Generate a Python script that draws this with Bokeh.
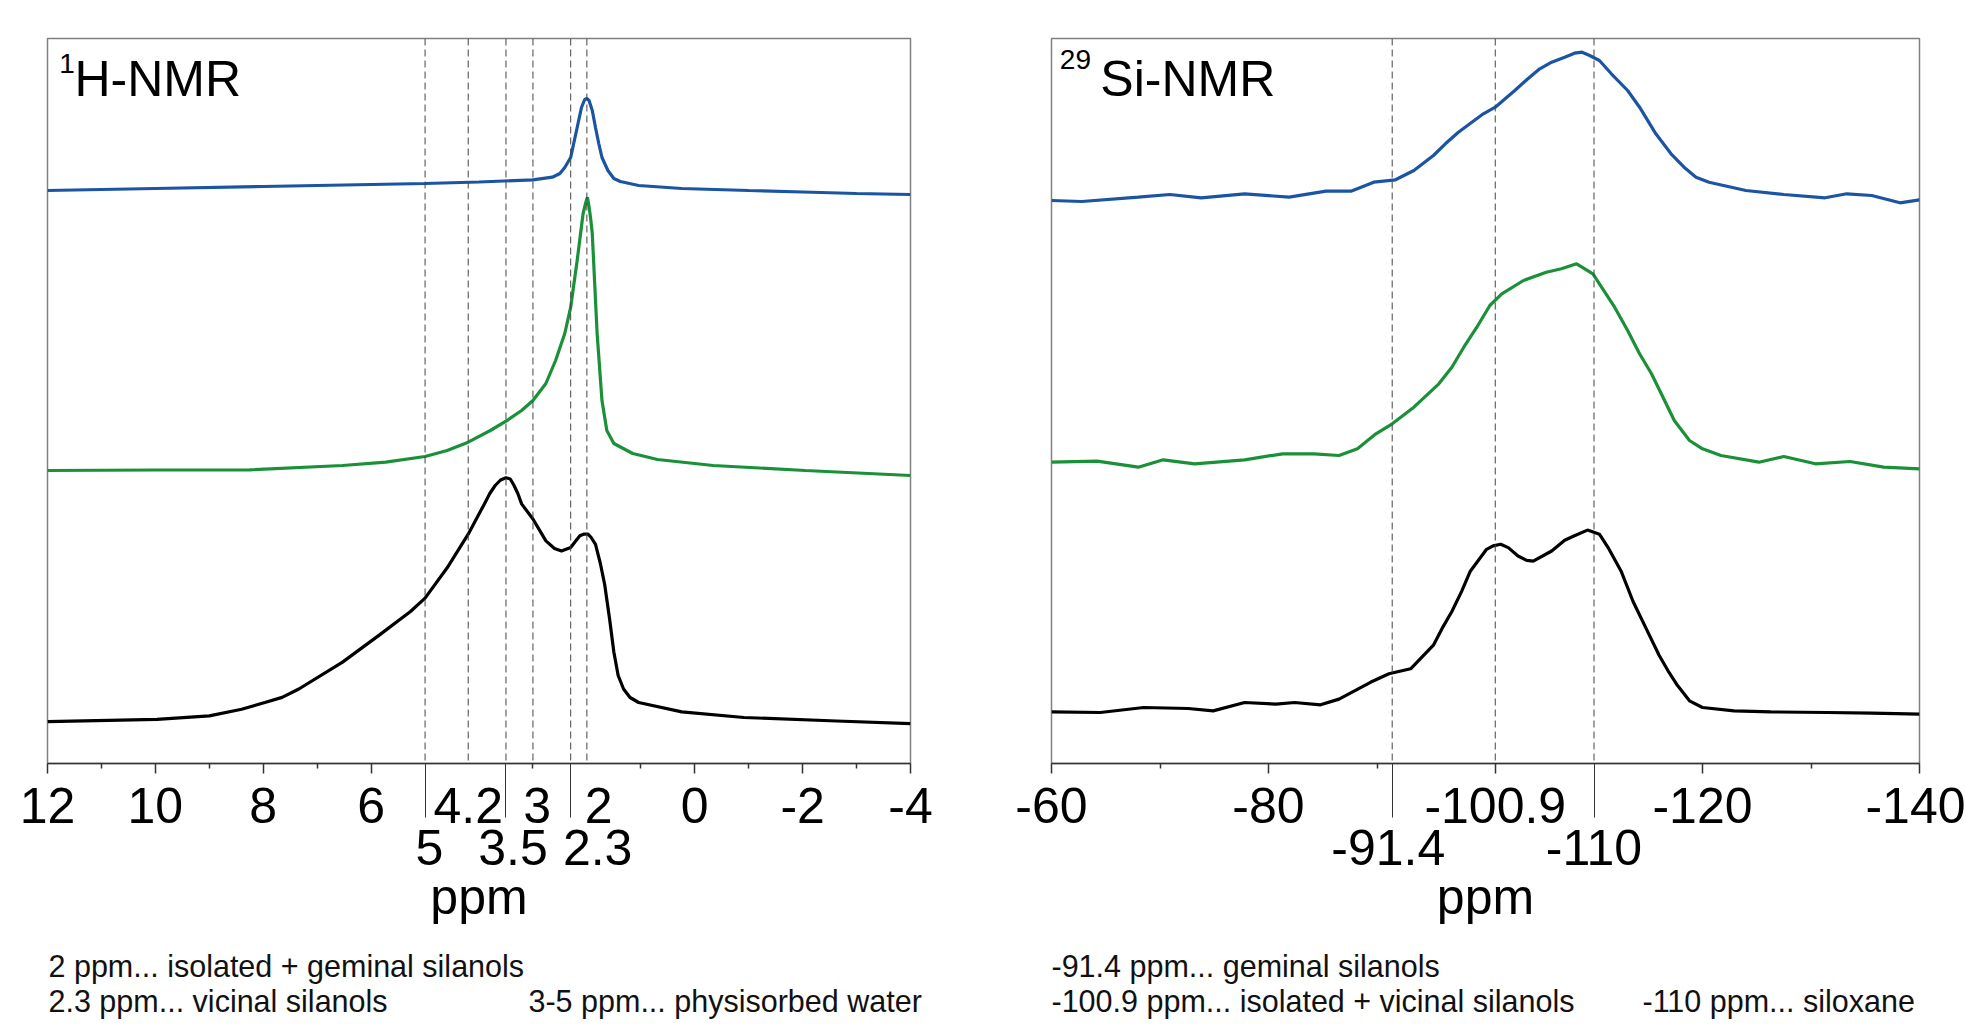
from bokeh.plotting import figure
from bokeh.models import Range1d, FixedTicker, LinearAxis, Span, Label, AllLabels
from bokeh.layouts import row, column
from bokeh.core.properties import value
from bokeh.embed import file_html
from bokeh.resources import INLINE

FONT = "Liberation Sans"
BLUE = "#1b54a2"
GREEN = "#1a9038"
BLACK = "#000000"
AXC = "#333333"

# ---------------- 1H-NMR (ppm, intensity a.u.) ----------------
h_blue_x = [12, 10, 8, 6, 5, 4, 3, 2.64, 2.5, 2.41, 2.3, 2.18, 2.1, 2.04, 2.0, 1.96, 1.9,
            1.84, 1.78, 1.72, 1.61, 1.5, 1.38, 1.04, 0.24, -1, -2, -3, -4]
h_blue_y = [573, 575, 577, 579, 580, 581.5, 583.7, 586.3, 590, 596, 606, 636, 656, 664, 665,
            663, 653, 636, 620, 606, 593, 585, 582, 578, 575, 573, 571.5, 570, 569]

h_green_x = [12, 10, 8.25, 6.53, 5.73, 5, 4.59, 4.2, 3.79, 3.5, 3.21, 3.0, 2.76, 2.58, 2.41,
             2.3, 2.18, 2.07, 2.02, 1.99, 1.96, 1.93, 1.9, 1.81, 1.72, 1.63, 1.5, 1.15, 0.69,
             -0.34, -2.05, -4]
h_green_y = [293, 293.5, 293.7, 298, 301.3, 307, 313, 321.3, 333, 342.3, 353, 363, 380, 403,
             430, 456.3, 503, 550, 561, 566.3, 557, 545, 530, 430, 363, 333, 320, 310, 304,
             298, 293, 288]

h_black_x = [12, 9.97, 9.0, 8.4, 7.97, 7.65, 7.34, 6.53, 5.85, 5.27, 5, 4.59, 4.2, 3.9, 3.8,
             3.7, 3.6, 3.5, 3.42, 3.35, 3.28, 3.21, 3.0, 2.76, 2.6, 2.47, 2.3, 2.2, 2.13, 2.05,
             1.98, 1.92, 1.84, 1.75, 1.67, 1.58, 1.5, 1.42, 1.32, 1.2, 1.04, 0.24, -0.91,
             -2.63, -4]
h_black_y = [41.9, 44.2, 47.6, 54.3, 61, 66.1, 74.5, 101.4, 128.4, 152, 165.4, 195.7, 229.3,
             259.6, 270, 278, 283.5, 285.7, 284.5, 278, 270, 259.6, 244.5, 222.6, 215, 212.5,
             216, 223, 227.7, 229.5, 229.3, 226, 219.2, 200, 179, 145, 111.5, 88, 74.5, 66,
             61, 51.6, 46, 42.5, 39.8]

h_marks = [5, 4.2, 3.5, 3, 2.3, 2]            # dashed reference lines
h_long_ticks = [5, 3.5, 2.3]                   # long ticks below the axis
h_major = [12, 10, 8, 6, 0, -2, -4]            # ordinary major ticks
h_minor = [11, 9, 7, 3, 1, -1, -3]
h_pos_row1 = [12, 10, 8, 6, 4.2, 2.92, 1.78, 0, -2, -4]
h_labels_row1 = ["12", "10", "8", "6", "4.2", "3", "2", "0", "-2", "-4"]
h_pos_row2 = [4.92, 3.37, 1.80]
h_labels_row2 = ["5", "3.5", "2.3"]

# ---------------- 29Si-NMR ----------------
si_blue_x = [-60, -62.8, -68, -70.9, -73.8, -77.8, -81.9, -85.3, -87.6, -89.7, -91.7, -93.4,
             -95.2, -96.3, -97.5, -99.8, -100.9, -102.7, -103.8, -105, -106.1, -107.3, -108.2,
             -108.9, -109.6, -110.5, -111.6, -113.1, -114.2, -115.7, -117.1, -118.3, -119.4,
             -120.6, -124, -127.5, -131.3, -133.3, -135.6, -138.2, -140]
si_blue_y = [563, 562, 566.3, 569, 565.7, 569.7, 566.3, 572.3, 572.3, 581.3, 583.7, 593, 608,
             619.7, 631.3, 649.7, 656.3, 673, 683.7, 694.7, 701.3, 706.3, 710.3, 711.3, 708,
             703, 689.7, 673, 656.3, 629.7, 609.7, 596.3, 586.3, 581.3, 573, 569, 565.7, 569.7,
             568, 560.7, 563.7]

si_green_x = [-60, -64.2, -68, -70.3, -73.2, -77.8, -81.3, -84.2, -86.5, -88.2, -89.9, -91.4,
              -93.4, -95.7, -96.9, -98, -99.2, -100.4, -101.5, -103.5, -105.6, -107, -108.4,
              -109.9, -111.9, -113.1, -114.2, -115.3, -116.2, -117.4, -118.8, -120, -121.7,
              -125.2, -127.5, -130.4, -133.6, -136.7, -140]
si_green_y = [301.3, 302.3, 296.3, 303.7, 299.7, 303.7, 309.7, 309.7, 308, 314.7, 329.7, 339.7,
              356.3, 379.7, 396.3, 416.3, 436.3, 458, 469.7, 483, 491.3, 494.7, 499.7, 489.7,
              456.3, 433, 409.7, 389.7, 369.7, 343, 323, 314.7, 308, 301.3, 307, 299.7, 302,
              296.3, 294.7]

si_black_x = [-60, -64.5, -68.5, -72.6, -74.9, -77.8, -80.7, -82.4, -84.8, -86.5, -89.4, -91.1,
              -93.1, -95.2, -96, -96.9, -97.8, -98.6, -100.1, -100.7, -101.4, -102.1, -103,
              -103.8, -104.4, -106.1, -107.3, -108.2, -109.4, -110.5, -111.3, -112.5, -113.6,
              -114.8, -116, -116.9, -117.7, -118.8, -120, -122.9, -126.3, -131.5, -135.6, -140]
si_black_y = [51.6, 51, 56, 55, 52.6, 61, 59.4, 61, 58.7, 64.4, 81.2, 89.7, 94.7, 118.3, 135.1,
              152, 172.1, 192.3, 214.2, 217.6, 219.2, 215.9, 207.5, 203.1, 202.4, 212.5, 223.3,
              227.7, 233.4, 229.3, 215.9, 192.3, 162, 135.1, 108.2, 91.3, 77.9, 62.7, 56, 52.6,
              51.6, 51, 50.3, 49.3]

si_marks = [-91.4, -100.9, -110]
si_long_ticks = [-91.4, -110]
si_major = [-60, -80, -100.9, -120, -140]
si_minor = [-70, -90, -130]
si_pos_row1 = [-60, -80, -100.9, -120, -140]
si_labels_row1 = ["-60", "-80", "-100.9", "-120", "-140"]
si_pos_row2 = [-91.04, -110]
si_labels_row2 = ["-91.4", "-110"]

h_notes = ["2 ppm... isolated + geminal silanols", "2.3 ppm... vicinal silanols",
           "3-5 ppm... physisorbed water"]
si_notes = ["-91.4 ppm... geminal silanols", "-100.9 ppm... isolated + vicinal silanols",
            "-110 ppm... siloxane"]


def style_labels(axis, standoff):
    axis.major_label_policy = AllLabels()
    axis.major_label_text_font = FONT
    axis.major_label_text_font_size = "50px"
    axis.major_label_text_color = "black"
    axis.major_label_standoff = standoff


def make_panel(xr, width, bl, br, series, marks, longt, major, minor, t1, l1, t2, l2,
               title_parts):
    p = figure(width=width, height=943, x_range=Range1d(*xr), y_range=Range1d(0, 725),
               output_backend="svg", toolbar_location=None, min_border_left=bl,
               min_border_right=br, min_border_top=38, min_border_bottom=180)
    p.grid.visible = False
    p.yaxis.visible = False
    p.outline_line_color = "#808080"
    p.outline_line_width = 1.5
    p.background_fill_color = "white"
    p.border_fill_color = "white"

    for m in marks:
        p.add_layout(Span(location=m, dimension="height", line_color="#444444",
                          line_width=1, line_dash="7 4"))
    for xs, ys, c in series:
        p.line(xs, ys, line_color=c, line_width=3.2)

    # axis A: axis line, long ticks (major) and ordinary major ticks (as its minor ticks)
    ax = p.xaxis[0]
    ax.ticker = FixedTicker(ticks=longt, minor_ticks=major)
    ax.axis_line_color = AXC
    ax.axis_line_width = 1.5
    ax.major_tick_in = 0
    ax.major_tick_out = 54
    ax.major_tick_line_color = AXC
    ax.major_tick_line_width = 1
    ax.minor_tick_in = 0
    ax.minor_tick_out = 10
    ax.minor_tick_line_color = AXC
    ax.minor_tick_line_width = 1.5
    ax.major_label_text_color = None

    # axis B: first row of labels, small minor ticks reaching back to the axis line
    bx = LinearAxis(ticker=FixedTicker(ticks=t1, minor_ticks=minor))
    bx.major_label_overrides = {t: s for t, s in zip(t1, l1)}
    style_labels(bx, 14)
    bx.axis_line_color = None
    bx.major_tick_in = 54
    bx.major_tick_out = -44
    bx.major_tick_line_color = None
    bx.minor_tick_in = 54
    bx.minor_tick_out = -49
    bx.minor_tick_line_color = AXC
    bx.minor_tick_line_width = 1.5
    p.add_layout(bx, "below")

    # axis C: second row of labels and the axis title
    cx = LinearAxis(ticker=FixedTicker(ticks=t2, minor_ticks=[]))
    cx.major_label_overrides = {t: s for t, s in zip(t2, l2)}
    style_labels(cx, 4)
    cx.axis_line_color = None
    cx.major_tick_line_color = None
    cx.minor_tick_line_color = None
    cx.major_tick_in = 0
    cx.major_tick_out = 0
    cx.minor_tick_in = 0
    cx.minor_tick_out = 0
    cx.axis_label = "ppm"
    cx.axis_label_text_font = FONT
    cx.axis_label_text_font_size = "50px"
    cx.axis_label_text_font_style = "normal"
    cx.axis_label_text_color = "black"
    cx.axis_label_standoff = 1
    p.add_layout(cx, "below")

    for txt, x, y, size in title_parts:
        p.add_layout(Label(x=x, y=y, text=txt, text_font=FONT, text_font_size=size,
                           text_color="black", text_align="left",
                           text_baseline="alphabetic"))
    return p


def make_notes(width, notes, xs, ys):
    n = figure(width=width, height=81, x_range=Range1d(0, width), y_range=Range1d(0, 81),
               output_backend="svg", toolbar_location=None, min_border=0)
    n.axis.visible = False
    n.grid.visible = False
    n.outline_line_color = None
    n.text(x=xs, y=ys, text=notes, text_font=value(FONT), text_font_size=value("30.5px"),
           text_color="#111111", text_align="left", text_baseline="alphabetic")
    return n


p1 = make_panel((12, -4), 980, 47, 70,
                [(h_blue_x, h_blue_y, BLUE), (h_green_x, h_green_y, GREEN),
                 (h_black_x, h_black_y, BLACK)],
                h_marks, h_long_ticks, h_major, h_minor, h_pos_row1, h_labels_row1,
                h_pos_row2, h_labels_row2,
                [("1", 11.78, 700, "28px"), ("H-NMR", 11.50, 685, "50px")])
p2 = make_panel((-60, -140), 985, 71, 46,
                [(si_blue_x, si_blue_y, BLUE), (si_green_x, si_green_y, GREEN),
                 (si_black_x, si_black_y, BLACK)],
                si_marks, si_long_ticks, si_major, si_minor, si_pos_row1, si_labels_row1,
                si_pos_row2, si_labels_row2,
                [("29", -60.77, 704, "28px"), ("Si-NMR", -64.5, 685, "50px")])

n1 = make_notes(980, h_notes, [48, 48, 528], [59, 24, 24])
n2 = make_notes(985, si_notes, [71, 71, 662], [59, 24, 24])

layout = column(row(p1, p2), row(n1, n2))
open("out.html", "w").write(file_html(layout, INLINE))
